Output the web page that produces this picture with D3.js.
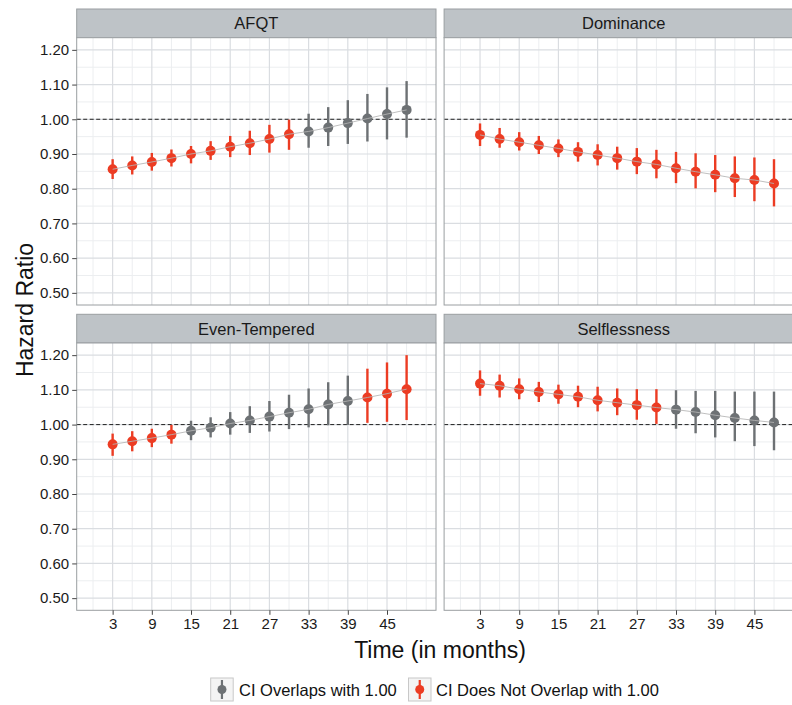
<!DOCTYPE html>
<html><head><meta charset="utf-8">
<script src="https://cdn.jsdelivr.net/npm/d3@7"></script>
<style>body{margin:0;background:#fff}svg{display:block;font-family:"Liberation Sans",Arial,sans-serif}</style>
</head><body><svg id="c" width="792" height="705"></svg>
<script>
const months = [3,6,9,12,15,18,21,24,27,30,33,36,39,42,45,48];
const xTicks = [3,9,15,21,27,33,39,45];
const yTicks = [0.5,0.6,0.7,0.8,0.9,1.0,1.1,1.2];
const yTickLabels = ["0.50","0.60","0.70","0.80","0.90","1.00","1.10","1.20"];
const panelNames = ["AFQT","Dominance","Even-Tempered","Selflessness"];

const afqtHR = [0.856,0.867,0.877,0.888,0.900,0.909,0.921,0.931,0.943,0.957,0.965,0.976,0.989,1.002,1.015,1.027];
const afqtLo = [0.828,0.841,0.852,0.864,0.873,0.883,0.891,0.897,0.904,0.912,0.918,0.923,0.929,0.936,0.942,0.947];
const afqtHi = [0.885,0.893,0.903,0.913,0.923,0.937,0.952,0.967,0.984,0.999,1.016,1.035,1.055,1.073,1.092,1.110];

const domHR = [0.955,0.943,0.934,0.925,0.916,0.906,0.897,0.888,0.878,0.870,0.859,0.849,0.840,0.830,0.825,0.815];
const domLo = [0.923,0.918,0.910,0.900,0.891,0.878,0.867,0.855,0.842,0.830,0.816,0.801,0.790,0.776,0.764,0.749];
const domHi = [0.988,0.975,0.963,0.952,0.942,0.934,0.928,0.921,0.917,0.912,0.906,0.902,0.897,0.893,0.890,0.885];

const evenHR = [0.943,0.952,0.961,0.971,0.982,0.991,1.003,1.012,1.023,1.034,1.044,1.058,1.068,1.078,1.089,1.102];
const evenLo = [0.910,0.923,0.935,0.945,0.955,0.963,0.971,0.976,0.980,0.987,0.992,0.998,0.999,1.005,1.008,1.013];
const evenHi = [0.974,0.981,0.988,0.999,1.011,1.021,1.036,1.053,1.068,1.086,1.104,1.122,1.141,1.161,1.179,1.200];

const selfHR = [1.118,1.112,1.102,1.094,1.087,1.080,1.070,1.063,1.056,1.049,1.043,1.036,1.027,1.019,1.012,1.006];
const selfLo = [1.083,1.078,1.073,1.065,1.060,1.050,1.038,1.027,1.014,1.002,0.988,0.975,0.963,0.952,0.938,0.926];
const selfHi = [1.156,1.144,1.133,1.123,1.115,1.112,1.109,1.104,1.102,1.102,1.099,1.097,1.097,1.095,1.095,1.095];

const legendLabels = ["CI Overlaps with 1.00","CI Does Not Overlap with 1.00"];
const colors = {grey:"#6d7174", red:"#ec3c23"};

const series = [
  {name:panelNames[0], hr:afqtHR, lo:afqtLo, hi:afqtHi},
  {name:panelNames[1], hr:domHR, lo:domLo, hi:domHi},
  {name:panelNames[2], hr:evenHR, lo:evenLo, hi:evenHi},
  {name:panelNames[3], hr:selfHR, lo:selfLo, hi:selfHi}
];

const svg = d3.select("#c");
const panelW = 359.3, panelH = 267.3, stripH = 28.7;
const colX = [76.7, 444.1], rowY = [37.7, 343];

series.forEach((s,i)=>{
  const col = i%2, row = Math.floor(i/2);
  const x = d3.scaleLinear().domain([-2.5,52.5]).range([colX[col], colX[col]+panelW]);
  const y = d3.scaleLinear().domain([0.465,1.235]).range([rowY[row]+panelH, rowY[row]]);
  const g = svg.append("g");
  // strip
  g.append("rect").attr("x",colX[col]).attr("y",rowY[row]-stripH).attr("width",panelW).attr("height",stripH)
    .attr("fill","#bec3c7").attr("stroke","#9a9ea1").attr("stroke-width",1);
  g.append("text").attr("x",colX[col]+panelW/2).attr("y",rowY[row]-stripH/2+6)
    .attr("text-anchor","middle").attr("font-size",16.5).attr("fill","#1a1a1a").text(s.name);
  // panel bg
  g.append("rect").attr("x",colX[col]).attr("y",rowY[row]).attr("width",panelW).attr("height",panelH).attr("fill","#fff");
  // minor grid
  const xMinor = [0,6,12,18,24,30,36,42,48,51];
  const yMinor = [0.55,0.65,0.75,0.85,0.95,1.05,1.15];
  g.selectAll(".xm").data(xMinor).join("line").attr("x1",d=>x(d)).attr("x2",d=>x(d))
    .attr("y1",rowY[row]).attr("y2",rowY[row]+panelH).attr("stroke","#eceef0").attr("stroke-width",1);
  g.selectAll(".ym").data(yMinor).join("line").attr("y1",d=>y(d)).attr("y2",d=>y(d))
    .attr("x1",colX[col]).attr("x2",colX[col]+panelW).attr("stroke","#eceef0").attr("stroke-width",1);
  g.selectAll(".xM").data(xTicks).join("line").attr("x1",d=>x(d)).attr("x2",d=>x(d))
    .attr("y1",rowY[row]).attr("y2",rowY[row]+panelH).attr("stroke","#dadde1").attr("stroke-width",1.2);
  g.selectAll(".yM").data(yTicks).join("line").attr("y1",d=>y(d)).attr("y2",d=>y(d))
    .attr("x1",colX[col]).attr("x2",colX[col]+panelW).attr("stroke","#dadde1").attr("stroke-width",1.2);
  // ref line
  g.append("line").attr("x1",colX[col]).attr("x2",colX[col]+panelW).attr("y1",y(1)).attr("y2",y(1))
    .attr("stroke","#222").attr("stroke-width",1).attr("stroke-dasharray","4,2.5");
  const data = months.map((m,k)=>({m,hr:s.hr[k],lo:s.lo[k],hi:s.hi[k],sig:(s.lo[k]>1||s.hi[k]<1)}));
  g.selectAll(".eb").data(data).join("line").attr("x1",d=>x(d.m)).attr("x2",d=>x(d.m))
    .attr("y1",d=>y(d.lo)).attr("y2",d=>y(d.hi)).attr("stroke",d=>d.sig?colors.red:colors.grey).attr("stroke-width",2.4);
  g.selectAll(".pt").data(data).join("circle").attr("cx",d=>x(d.m)).attr("cy",d=>y(d.hr)).attr("r",5)
    .attr("fill",d=>d.sig?colors.red:colors.grey);
  g.append("path").datum(data).attr("d",d3.line().x(d=>x(d.m)).y(d=>y(d.hr)))
    .attr("fill","none").attr("stroke","#b4b4b4").attr("stroke-width",1).attr("opacity",0.85);
  // border
  g.append("rect").attr("x",colX[col]).attr("y",rowY[row]).attr("width",panelW).attr("height",panelH)
    .attr("fill","none").attr("stroke","#9a9ea1").attr("stroke-width",1);
  // axes
  if(col===0){
    const ax = g.append("g").attr("transform",`translate(${colX[col]},0)`)
      .call(d3.axisLeft(y).tickValues(yTicks).tickFormat((d,k)=>yTickLabels[k]).tickSize(4.5).tickPadding(3));
    ax.select(".domain").remove();
    ax.selectAll("line").attr("stroke","#444");
    ax.selectAll("text").attr("font-size",15).attr("fill","#1a1a1a").attr("font-family","Liberation Sans, Arial, sans-serif");
  }
  if(row===1){
    const ax = g.append("g").attr("transform",`translate(0,${rowY[row]+panelH})`)
      .call(d3.axisBottom(x).tickValues(xTicks).tickSize(4.5).tickPadding(4));
    ax.select(".domain").remove();
    ax.selectAll("line").attr("stroke","#444");
    ax.selectAll("text").attr("font-size",15).attr("fill","#1a1a1a").attr("font-family","Liberation Sans, Arial, sans-serif");
  }
});

// titles
svg.append("text").attr("x",440).attr("y",658).attr("text-anchor","middle").attr("font-size",23).attr("fill","#111").text("Time (in months)");
svg.append("text").attr("transform","translate(33,310) rotate(-90)").attr("text-anchor","middle").attr("font-size",23).attr("fill","#111").text("Hazard Ratio");

// legend
const leg = svg.append("g");
const keyX = [210.7, 408.5], textX = [239, 436];
const keyCols = [colors.grey, colors.red];
legendLabels.forEach((lab,k)=>{
  leg.append("rect").attr("x",keyX[k]).attr("y",678).attr("width",22.5).attr("height",23)
    .attr("fill","#f4f4f4").attr("stroke","#c8c8c8").attr("stroke-width",1);
  leg.append("line").attr("x1",keyX[k]+11.25).attr("x2",keyX[k]+11.25).attr("y1",680).attr("y2",699)
    .attr("stroke",keyCols[k]).attr("stroke-width",2.2);
  leg.append("circle").attr("cx",keyX[k]+11.25).attr("cy",689.5).attr("r",4.5).attr("fill",keyCols[k]);
  leg.append("text").attr("x",textX[k]).attr("y",695.5).attr("font-size",16.5).attr("fill","#111").text(lab);
});
</script></body></html>
